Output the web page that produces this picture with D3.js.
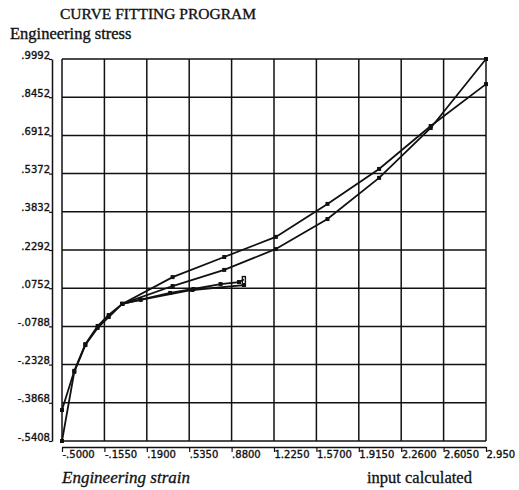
<!DOCTYPE html>
<html>
<head>
<meta charset="utf-8">
<script src="https://cdn.jsdelivr.net/npm/d3@7/dist/d3.min.js"></script>
<style>
  html, body { margin: 0; padding: 0; background: #fff; }
  svg { display: block; }
</style>
</head>
<body>
<svg id="chart" width="519" height="490"></svg>
<script>
// ---- data ----
const xTickValues = [-0.5, -0.155, 0.19, 0.535, 0.88, 1.225, 1.57, 1.915, 2.26, 2.605, 2.95];
const xTickLabels = ["-.5000", "-.1550", ".1900", ".5350", ".8800", "1.2250", "1.5700", "1.9150", "2.2600", "2.6050", "2.950"];
const yTickValues = [0.9992, 0.8452, 0.6912, 0.5372, 0.3832, 0.2292, 0.0752, -0.0788, -0.2328, -0.3868, -0.5408];
const yTickLabels = [".9992", ".8452", ".6912", ".5372", ".3832", ".2292", ".0752", "-.0788", "-.2328", "-.3868", "-.5408"];

const strainFit = [-0.5, -0.40, -0.31, -0.21, -0.12, -0.01, 0.40, 0.82, 1.24, 1.66, 2.08, 2.50, 2.95];
const stressCalcA = [-0.416, -0.258, -0.150, -0.077, -0.033, 0.012, 0.120, 0.201, 0.282, 0.415, 0.556, 0.729, 0.898];
const stressCalcB = [-0.5408, -0.262, -0.154, -0.085, -0.041, 0.012, 0.084, 0.149, 0.233, 0.354, 0.520, 0.721, 0.9992];

const strainInputUp = [-0.01, 0.38, 0.57, 0.79, 0.94, 0.98];
const stressInputUp = [0.012, 0.056, 0.072, 0.092, 0.100, 0.110];
const strainInputBack = [0.98, 0.56, 0.14, -0.01];
const stressInputBack = [0.088, 0.068, 0.028, 0.012];

// ---- layout ----
const svg = d3.select("#chart");
const x = d3.scaleLinear().domain([-0.5, 2.95]).range([62, 486]);
const y = d3.scaleLinear().domain([-0.5408, 0.9992]).range([441, 59]);
const ink = "#111";
const serif = "Liberation Serif, Times New Roman, serif";

// title texts
svg.append("text").attr("x", 60).attr("y", 19)
  .attr("font-family", serif).attr("font-size", 15.5).attr("fill", ink)
  .attr("stroke", ink).attr("stroke-width", 0.35)
  .text("CURVE FITTING PROGRAM");
svg.append("text").attr("x", 10).attr("y", 39)
  .attr("font-family", serif).attr("font-size", 16.5).attr("fill", ink)
  .attr("stroke", ink).attr("stroke-width", 0.35)
  .text("Engineering stress");
svg.append("text").attr("x", 62).attr("y", 483)
  .attr("font-family", serif).attr("font-style", "italic")
  .attr("font-size", 17).attr("fill", ink)
  .attr("stroke", ink).attr("stroke-width", 0.3)
  .text("Engineering strain");
svg.append("text").attr("x", 367).attr("y", 483)
  .attr("font-family", serif).attr("font-size", 16.5).attr("fill", ink)
  .attr("stroke", ink).attr("stroke-width", 0.3)
  .text("input calculated");

// grid
const grid = svg.append("g").attr("stroke", ink).attr("stroke-width", 1.5);
grid.selectAll("line.h").data(yTickValues).join("line").attr("class", "h")
  .attr("x1", x(-0.5)).attr("x2", x(2.95))
  .attr("y1", d => y(d)).attr("y2", d => y(d));
grid.selectAll("line.v").data(xTickValues).join("line").attr("class", "v")
  .attr("y1", y(0.9992)).attr("y2", y(-0.5408))
  .attr("x1", d => x(d)).attr("x2", d => x(d));

// y axis (separate line left of the plot)
const yAxis = d3.axisLeft(y).tickValues(yTickValues).tickSize(3).tickSizeOuter(0)
  .tickFormat((d, i) => yTickLabels[i]);
const gy = svg.append("g").attr("transform", "translate(52,0)").call(yAxis);
gy.select(".domain").attr("stroke", ink).attr("stroke-width", 1.5);
gy.selectAll(".tick line").attr("stroke", ink).attr("stroke-width", 1.2);
gy.selectAll(".tick text").attr("font-family", "DejaVu Sans, sans-serif")
  .attr("font-size", 10).attr("fill", ink).attr("stroke", ink).attr("stroke-width", 0.35)
  .attr("x", -2).attr("dy", "-0.1em");

// x axis (separate line below the plot)
const xAxis = d3.axisBottom(x).tickValues(xTickValues).tickSize(5).tickSizeOuter(0)
  .tickFormat((d, i) => xTickLabels[i]);
const gx = svg.append("g").attr("transform", "translate(0,447)").call(xAxis);
gx.select(".domain").attr("stroke", ink).attr("stroke-width", 1.5);
gx.selectAll(".tick line").attr("stroke", ink).attr("stroke-width", 1.2);
gx.selectAll(".tick text").attr("font-family", "DejaVu Sans, sans-serif")
  .attr("font-size", 10).attr("fill", ink).attr("stroke", ink).attr("stroke-width", 0.35)
  .attr("text-anchor", "start").attr("x", 0).attr("y", 4).attr("dy", "0.71em");

// curves
const line = d3.line().x(d => x(d[0])).y(d => y(d[1]));
const series = [
  strainFit.map((v, i) => [v, stressCalcA[i]]),
  strainFit.map((v, i) => [v, stressCalcB[i]]),
  strainInputUp.map((v, i) => [v, stressInputUp[i]]),
  strainInputBack.map((v, i) => [v, stressInputBack[i]])
];
const gc = svg.append("g");
series.forEach((s, k) => {
  gc.append("path").datum(s).attr("d", line)
    .attr("fill", "none").attr("stroke", ink).attr("stroke-width", 1.8);
  gc.selectAll(null).data(k === 2 ? s.slice(0, -1) : s).join("rect")
    .attr("x", d => x(d[0]) - 2).attr("y", d => y(d[1]) - 2)
    .attr("width", 4).attr("height", 4).attr("fill", ink);
});
// bracket marker at end of input curve
const last = series[2][series[2].length - 1];
gc.append("rect").attr("x", x(last[0]) - 1.5).attr("y", y(last[1]) - 3)
  .attr("width", 3).attr("height", 9).attr("fill", "none")
  .attr("stroke", ink).attr("stroke-width", 1.4);
</script>
</body>
</html>
